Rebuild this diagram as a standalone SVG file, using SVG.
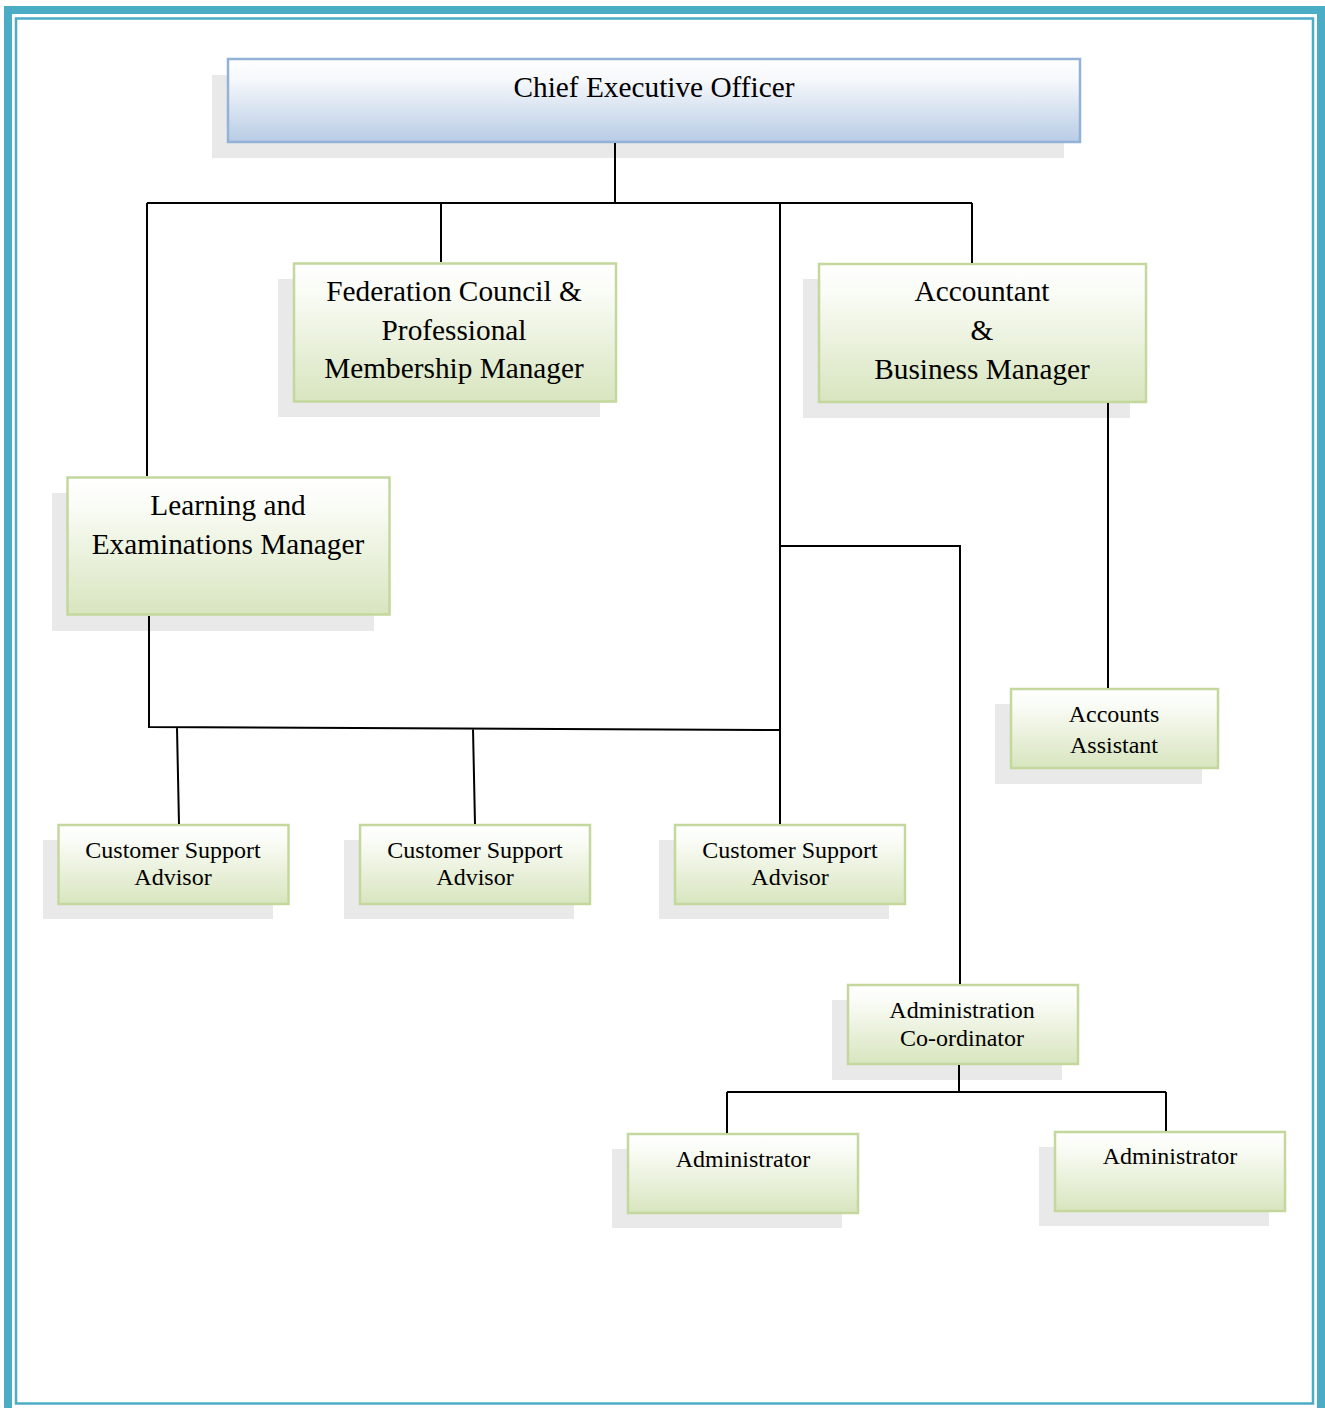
<svg xmlns="http://www.w3.org/2000/svg" width="1325" height="1408" viewBox="0 0 1325 1408">
<defs>
<linearGradient id="gb" x1="0" y1="0" x2="0" y2="1">
<stop offset="0" stop-color="#ffffff"/><stop offset="0.25" stop-color="#f6f8fb"/><stop offset="1" stop-color="#b7cce5"/>
</linearGradient>
<linearGradient id="gg" x1="0" y1="0" x2="0" y2="1">
<stop offset="0" stop-color="#ffffff"/><stop offset="0.2" stop-color="#fafcf6"/><stop offset="1" stop-color="#d8e5bf"/>
</linearGradient>
<style>
.sh{fill:#e9e9e9}
.bb{fill:url(#gb);stroke:#93b2d8;stroke-width:2.5}
.gb{fill:url(#gg);stroke:#c4d89d;stroke-width:2.5}
.t{font-family:"Liberation Serif","Times New Roman",serif;fill:#000;text-anchor:middle}
.l{font-size:29.3px}
.s{font-size:24px}
.c{fill:none;stroke:#000;stroke-width:2}
</style>
</defs>
<rect width="1325" height="1408" fill="#fff"/>
<rect x="8" y="10" width="1313" height="1410" fill="none" stroke="#4bacc6" stroke-width="8"/>
<rect x="16" y="18.5" width="1297" height="1385" fill="none" stroke="#4bacc6" stroke-width="2.5"/>

<g id="ceo">
<rect class="sh" x="212" y="75" width="852" height="83"/>
<rect class="bb" x="228" y="59" width="852" height="83"/>
<text class="t l" x="654" y="97">Chief Executive Officer</text>
</g>

<g id="federation">
<rect class="sh" x="278" y="279" width="322" height="138"/>
<rect class="gb" x="294" y="263.5" width="322" height="138"/>
<text class="t l" x="454" y="301">Federation Council &amp;</text>
<text class="t l" x="454" y="340">Professional</text>
<text class="t l" x="454" y="378">Membership Manager</text>
</g>

<g id="accountant">
<rect class="sh" x="803" y="279" width="327" height="139"/>
<rect class="gb" x="819" y="264" width="327" height="138"/>
<text class="t l" x="982" y="301">Accountant</text>
<text class="t l" x="982" y="340">&amp;</text>
<text class="t l" x="982" y="379">Business Manager</text>
</g>

<g id="learning">
<rect class="sh" x="52" y="493" width="322" height="138"/>
<rect class="gb" x="67.5" y="477.5" width="322" height="137"/>
<text class="t l" x="228" y="515">Learning and</text>
<text class="t l" x="228" y="554">Examinations Manager</text>
</g>

<g id="accounts-assistant">
<rect class="sh" x="995" y="704" width="207" height="80"/>
<rect class="gb" x="1011" y="689" width="207" height="79"/>
<text class="t s" x="1114" y="722">Accounts</text>
<text class="t s" x="1114" y="753">Assistant</text>
</g>

<g id="csa1">
<rect class="sh" x="43" y="840" width="230" height="79"/>
<rect class="gb" x="58.5" y="825" width="230" height="79"/>
<text class="t s" x="173" y="858">Customer Support</text>
<text class="t s" x="173" y="885">Advisor</text>
</g>

<g id="csa2">
<rect class="sh" x="344" y="840" width="230" height="79"/>
<rect class="gb" x="360" y="825" width="230" height="79"/>
<text class="t s" x="475" y="858">Customer Support</text>
<text class="t s" x="475" y="885">Advisor</text>
</g>

<g id="csa3">
<rect class="sh" x="659" y="840" width="230" height="79"/>
<rect class="gb" x="675" y="825" width="230" height="79"/>
<text class="t s" x="790" y="858">Customer Support</text>
<text class="t s" x="790" y="885">Advisor</text>
</g>

<g id="admin-coordinator">
<rect class="sh" x="832" y="1000" width="230" height="80"/>
<rect class="gb" x="848" y="985" width="230" height="79"/>
<text class="t s" x="962" y="1018">Administration</text>
<text class="t s" x="962" y="1046">Co-ordinator</text>
</g>

<g id="administrator1">
<rect class="sh" x="612" y="1149" width="230" height="79"/>
<rect class="gb" x="628" y="1134" width="230" height="79"/>
<text class="t s" x="743" y="1167">Administrator</text>
</g>

<g id="administrator2">
<rect class="sh" x="1039" y="1147" width="230" height="79"/>
<rect class="gb" x="1055" y="1132" width="230" height="79"/>
<text class="t s" x="1170" y="1164">Administrator</text>
</g>

<g id="connectors">
<path class="c" d="M615 143V203M147 203H972M441 203V262M972 203V263M147 203V476M780 203V824M780 546H960V984M1108 403V688M149 616V727L780 730M177 728L179 824M473 729L475 824M959 1065V1092M727 1092H1166M727 1092V1133M1166 1092V1131"/>
</g>
</svg>
